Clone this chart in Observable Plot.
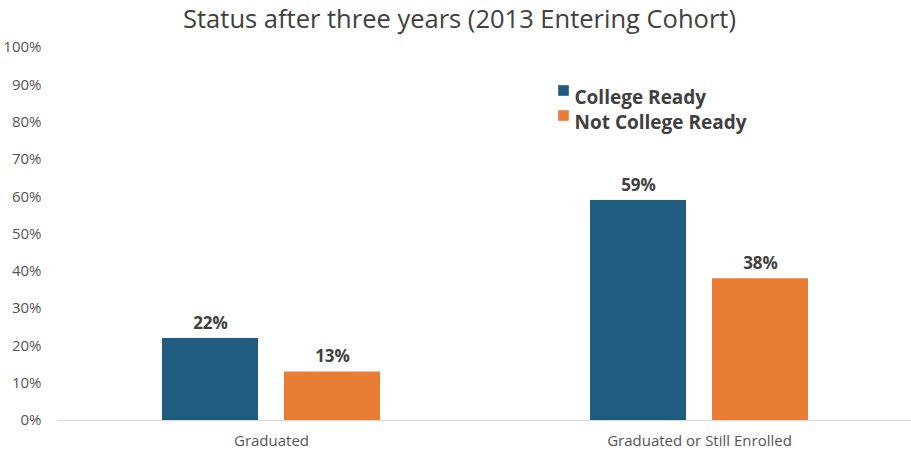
<!DOCTYPE html>
<html>
<head>
<meta charset="utf-8">
<script src="https://cdn.jsdelivr.net/npm/d3@7"></script>
<script src="https://cdn.jsdelivr.net/npm/@observablehq/plot@0.6"></script>
<style>
  html, body { margin: 0; padding: 0; background: #fff; }
  #title { font-family: "Open Sans", sans-serif; font-size: 25.5px; color: #404040; text-align: center; height: 28px; line-height: 36px; padding-left: 8px; position: relative; z-index: 1; }
  svg { display: block; }
</style>
</head>
<body>
<div id="title">Status after three years (2013 Entering Cohort)</div>
<div id="chart"></div>
<script>
const groups = ["Graduated", "Graduated or Still Enrolled"];
const series = ["College Ready", "Not College Ready"];
const collegeReady = [22, 59];
const notCollegeReady = [13, 38];
const yTicks = [0, 10, 20, 30, 40, 50, 60, 70, 80, 90, 100];
const colors = ["#1f5c80", "#ea7d34"];

const data = groups.flatMap((g, i) => [
  {group: g, series: series[0], value: collegeReady[i]},
  {group: g, series: series[1], value: notCollegeReady[i]}
]);

const legendMarks = series.flatMap((s, i) => [
  Plot.dot([s], {fx: () => groups[1], frameAnchor: "top-left", dx: 78, dy: 43 + 25 * i, symbol: "square", r: 6, fill: colors[i], stroke: "none"}),
  Plot.text([s], {fx: () => groups[1], frameAnchor: "top-left", dx: 89, dy: 43 + 25 * i, text: d => d, textAnchor: "start", fontSize: 19, fontWeight: "bold", fill: "#404040"})
]);

const chart = Plot.plot({
  width: 911,
  height: 423,
  marginTop: 19,
  marginBottom: 31,
  marginLeft: 57,
  marginRight: -2,
  style: {fontFamily: "'Open Sans', sans-serif", fontSize: "15px", color: "#555555"},
  fx: {domain: groups, padding: 0, label: null, axis: "bottom", tickSize: 0, tickPadding: 15},
  x: {domain: series, paddingInner: 0.213, paddingOuter: 0.86, axis: null},
  y: {domain: [0, 100], ticks: yTicks, tickFormat: d => d + "%", tickSize: 0, tickPadding: 16, label: null},
  color: {domain: series, range: colors},
  marks: [
    Plot.barY(data, {fx: "group", x: "series", y: "value", fill: "series"}),
    Plot.ruleY([0], {stroke: "#d9d9d9", strokeWidth: 1}),
    Plot.text(data, {fx: "group", x: "series", y: "value", text: d => d.value + "%", dy: -15, fontSize: 17, fontWeight: "bold", fill: "#404040"}),
    ...legendMarks
  ]
});
document.getElementById("chart").appendChild(chart);
</script>
</body>
</html>
